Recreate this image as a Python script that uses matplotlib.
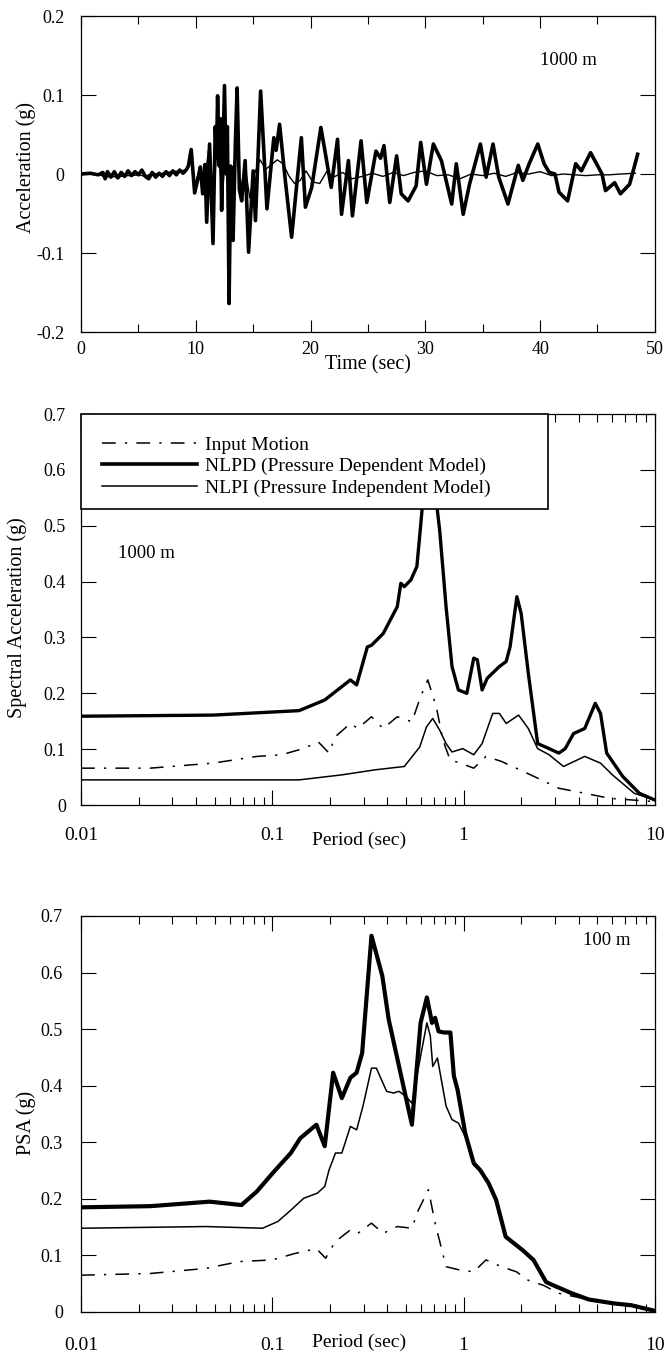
import matplotlib
matplotlib.use('Agg')
import matplotlib.pyplot as plt
from matplotlib.patches import Rectangle
from matplotlib.lines import Line2D
import matplotlib.ticker as mticker

plt.rcParams['font.family'] = ['Liberation Serif', 'DejaVu Serif']
plt.rcParams['axes.unicode_minus'] = False

# ---------------- Panel 1 : acceleration time history at 1000 m ----------------
t_nlpd = [0.0, 0.8, 1.5, 1.9, 2.1, 2.3, 2.6, 2.9, 3.2, 3.5,
          3.8, 4.1, 4.4, 4.7, 5.0, 5.3, 5.6, 5.9, 6.2, 6.5,
          6.8, 7.1, 7.4, 7.7, 8.0, 8.3, 8.6, 8.9, 9.2, 9.35,
          9.6, 9.9, 10.2, 10.4, 10.6, 10.8, 10.95, 11.2, 11.5, 11.7,
          11.8, 11.9, 12.05, 12.15, 12.25, 12.5, 12.65, 12.75, 12.9, 13.05,
          13.15, 13.25, 13.45, 13.6, 13.8, 14.0, 14.3, 14.6, 15.0, 15.2,
          15.65, 16.2, 16.8, 17.0, 17.3, 17.8, 18.35, 19.0, 19.2, 19.55,
          20.1, 20.9, 21.8, 22.35, 22.7, 23.3, 23.65, 24.4, 24.9, 25.7,
          26.1, 26.4, 26.9, 27.5, 27.9, 28.5, 29.2, 29.6, 30.1, 30.7,
          31.4, 32.3, 32.7, 33.3, 33.85, 34.8, 35.3, 35.9, 36.4, 37.2,
          38.1, 38.5, 39.05, 39.8, 40.35, 40.8, 41.3, 41.65, 42.4, 43.1,
          43.6, 44.4, 45.4, 45.7, 46.5, 47.0, 47.8, 48.5]
a_nlpd = [0.0, 0.001, -0.001, 0.002, -0.006, 0.003, -0.004, 0.003, -0.005, 0.002,
          -0.003, 0.004, -0.002, 0.003, -0.001, 0.005, -0.003, -0.006, 0.002, -0.004,
          0.001, -0.003, 0.003, -0.002, 0.004, -0.001, 0.005, 0.001, 0.006, 0.01,
          0.031, -0.024, -0.005, 0.009, -0.025, 0.012, -0.061, 0.038, -0.088, 0.06,
          0.02, 0.099, 0.01, 0.07, -0.046, 0.112, 0.0, 0.06, -0.164, 0.01,
          -0.04, -0.084, 0.04, 0.109, -0.02, -0.034, 0.017, -0.099, 0.004, -0.059,
          0.105, -0.044, 0.046, 0.03, 0.063, -0.008, -0.08, 0.017, 0.046, -0.042,
          -0.017, 0.059, -0.017, 0.044, -0.051, 0.017, -0.053, 0.042, -0.036, 0.029,
          0.02, 0.036, -0.036, 0.023, -0.025, -0.034, -0.015, 0.04, -0.013, 0.038,
          0.017, -0.038, 0.013, -0.051, -0.013, 0.038, -0.004, 0.038, -0.004, -0.038,
          0.011, -0.008, 0.013, 0.038, 0.013, 0.002, 0.0, -0.023, -0.034, 0.013,
          0.004, 0.027, 0.0, -0.021, -0.011, -0.025, -0.013, 0.025]

t_nlpi = [0.0, 1.5, 2.1, 2.6, 3.2, 3.8, 4.4, 5.0, 5.6, 6.2,
          6.8, 7.4, 8.0, 8.6, 9.2, 9.6, 9.9, 10.3, 10.7, 11.1,
          11.5, 11.9, 12.3, 12.7, 13.1, 13.5, 13.9, 14.3, 14.7, 15.1,
          15.6, 16.1, 16.6, 17.1, 17.6, 18.1, 18.6, 19.1, 19.6, 20.2,
          20.8, 21.4, 22.0, 22.8, 23.6, 24.5, 25.4, 26.3, 27.2, 28.1,
          29.0, 30.0, 31.0, 32.0, 33.0, 34.0, 35.0, 36.0, 37.0, 38.0,
          39.0, 40.0, 41.0, 42.0, 43.0, 44.0, 45.0, 46.0, 47.0, 48.3]
a_nlpi = [0.0, 0.0, -0.004, -0.003, -0.004, -0.002, -0.002, -0.001, -0.003, 0.001,
          0.0, 0.002, 0.003, 0.004, 0.005, 0.025, -0.015, 0.005, -0.02, 0.03,
          -0.035, 0.045, -0.03, 0.05, -0.05, 0.035, -0.02, 0.01, -0.03, 0.0,
          0.018, 0.006, 0.012, 0.018, 0.013, -0.002, -0.012, -0.008, 0.004, -0.01,
          -0.012, 0.003, -0.004, 0.002, -0.006, -0.003, 0.001, -0.003, 0.002, -0.002,
          0.002, 0.004, -0.002, -0.001, -0.006, 0.0, -0.002, 0.001, -0.003, 0.002,
          0.0, 0.003, -0.002, 0.0, -0.001, -0.002, -0.001, -0.001, 0.0, 0.001]

# ---------------- Panel 2 : spectral acceleration at 1000 m ----------------
T2_nlpd = [0.01, 0.049, 0.138, 0.188, 0.231, 0.256, 0.276, 0.314, 0.33, 0.38,
           0.45, 0.47, 0.49, 0.53, 0.57, 0.60, 0.64, 0.70, 0.75, 0.81,
           0.87, 0.94, 1.04, 1.13, 1.18, 1.25, 1.33, 1.54, 1.67, 1.75,
           1.9, 2.0, 2.18, 2.44, 2.8, 3.15, 3.4, 3.76, 4.3, 4.64,
           4.88, 5.2, 5.6, 6.8, 8.3, 10]
S2_nlpd = [0.159, 0.161, 0.169, 0.188, 0.212, 0.224, 0.215, 0.283, 0.286, 0.307,
           0.355, 0.397, 0.391, 0.403, 0.427, 0.51, 0.62, 0.58, 0.492, 0.355,
           0.248, 0.206, 0.2, 0.263, 0.26, 0.206, 0.227, 0.248, 0.257, 0.283,
           0.373, 0.343, 0.236, 0.11, 0.101, 0.093, 0.101, 0.128, 0.137, 0.164,
           0.182, 0.164, 0.093, 0.051, 0.021, 0.009]
T2_nlpi = [0.01, 0.138, 0.231, 0.344, 0.49, 0.59, 0.64, 0.69, 0.75, 0.81,
           0.87, 0.99, 1.13, 1.25, 1.42, 1.54, 1.67, 1.94, 2.18, 2.44,
           2.8, 3.33, 4.3, 5.2, 6.0, 7.8, 10]
S2_nlpi = [0.045, 0.045, 0.054, 0.063, 0.069, 0.104, 0.14, 0.155, 0.134, 0.11,
           0.095, 0.101, 0.09, 0.11, 0.164, 0.164, 0.146, 0.161, 0.137, 0.101,
           0.09, 0.069, 0.087, 0.075, 0.054, 0.021, 0.009]
T2_in = [0.01, 0.023, 0.049, 0.083, 0.112, 0.145, 0.174, 0.198, 0.213, 0.256,
         0.28, 0.33, 0.38, 0.45, 0.537, 0.596, 0.65, 0.72, 0.78, 0.85,
         0.96, 1.13, 1.31, 1.58, 1.97, 2.55, 3.15, 4.3, 5.8, 10]
S2_in = [0.066, 0.066, 0.075, 0.087, 0.09, 0.101, 0.113, 0.093, 0.122, 0.146,
         0.137, 0.158, 0.137, 0.158, 0.149, 0.194, 0.224, 0.176, 0.116, 0.081,
         0.075, 0.066, 0.087, 0.078, 0.063, 0.045, 0.03, 0.021, 0.012, 0.006]

# ---------------- Panel 3 : PSA at 100 m ----------------
T3_nlpd = [0.01, 0.023, 0.047, 0.069, 0.083, 0.102, 0.125, 0.14, 0.17, 0.188,
           0.208, 0.231, 0.256, 0.276, 0.295, 0.330, 0.376, 0.406, 0.537, 0.596,
           0.643, 0.684, 0.71, 0.74, 0.79, 0.853, 0.89, 0.93, 1.02, 1.13,
           1.22, 1.35, 1.48, 1.66, 2.04, 2.32, 2.70, 2.95, 3.68, 4.52,
           6.14, 7.5, 10]
S3_nlpd = [0.185, 0.187, 0.195, 0.189, 0.213, 0.248, 0.281, 0.307, 0.331, 0.293,
           0.423, 0.378, 0.414, 0.423, 0.458, 0.665, 0.594, 0.517, 0.331, 0.511,
           0.556, 0.511, 0.52, 0.496, 0.494, 0.494, 0.417, 0.393, 0.316, 0.263,
           0.251, 0.228, 0.198, 0.133, 0.109, 0.092, 0.053, 0.047, 0.033, 0.022,
           0.015, 0.012, 0.002]
T3_nlpi = [0.01, 0.045, 0.089, 0.107, 0.125, 0.146, 0.172, 0.188, 0.198, 0.214,
           0.231, 0.256, 0.276, 0.298, 0.330, 0.35, 0.396, 0.43, 0.46, 0.50,
           0.537, 0.596, 0.643, 0.67, 0.69, 0.73, 0.81, 0.87, 0.94, 1.02,
           1.13, 1.22, 1.35, 1.48, 1.66, 2.04, 2.32, 2.70, 2.95, 3.68,
           4.52, 6.14, 7.5, 10]
S3_nlpi = [0.148, 0.151, 0.148, 0.16, 0.180, 0.201, 0.21, 0.222, 0.251, 0.281,
           0.281, 0.328, 0.322, 0.364, 0.431, 0.431, 0.39, 0.387, 0.39, 0.381,
           0.369, 0.452, 0.511, 0.488, 0.434, 0.449, 0.364, 0.34, 0.334, 0.31,
           0.26, 0.249, 0.226, 0.196, 0.132, 0.108, 0.091, 0.052, 0.046, 0.032,
           0.021, 0.014, 0.011, 0.002]
T3_in = [0.01, 0.023, 0.045, 0.067, 0.1, 0.13, 0.17, 0.19, 0.213, 0.256,
         0.28, 0.33, 0.38, 0.45, 0.537, 0.58, 0.655, 0.71, 0.81, 0.96,
         1.13, 1.31, 1.58, 1.89, 2.18, 2.62, 3.15, 4.5, 10]
S3_in = [0.065, 0.068, 0.077, 0.089, 0.092, 0.103, 0.112, 0.095, 0.124, 0.145,
         0.139, 0.157, 0.139, 0.151, 0.148, 0.180, 0.216, 0.157, 0.08, 0.074,
         0.071, 0.092, 0.08, 0.071, 0.056, 0.047, 0.033, 0.022, 0.002]

time_ticks = [0, 10, 20, 30, 40, 50]
acc_ticks = [-0.2, -0.1, 0.0, 0.1, 0.2]
acc_labels = ['-0.2', '-0.1', '0', '0.1', '0.2']
per_ticks = [0.01, 0.1, 1, 10]
per_labels = ['0.01', '0.1', '1', '10']
sa_ticks = [0, 0.1, 0.2, 0.3, 0.4, 0.5, 0.6, 0.7]
sa_labels = ['0', '0.1', '0.2', '0.3', '0.4', '0.5', '0.6', '0.7']
legend_labels = ['Input Motion', 'NLPD (Pressure Dependent Model)',
                 'NLPI (Pressure Independent Model)']

INPUT_DASH = (0, (9, 6, 1.5, 6))

fig = plt.figure(figsize=(6.68, 13.58), dpi=100)
ax1 = fig.add_axes([0.1213, 0.7555, 0.859, 0.2327])
ax2 = fig.add_axes([0.1213, 0.4072, 0.859, 0.2879])
ax3 = fig.add_axes([0.1213, 0.0339, 0.859, 0.2916])

for ax in (ax1, ax2, ax3):
    for s in ax.spines.values():
        s.set_linewidth(0.9)

# Panel 1
ax1.plot(t_nlpi, a_nlpi, color='k', lw=1.0)
ax1.plot(t_nlpd, a_nlpd, color='k', lw=2.6, solid_joinstyle='round')
ax1.set_xlim(0, 50)
ax1.set_ylim(-0.2, 0.2)
ax1.set_xticks(time_ticks, labels=[str(v) for v in time_ticks])
ax1.xaxis.set_minor_locator(mticker.MultipleLocator(5))
ax1.set_yticks(acc_ticks, labels=acc_labels)
ax1.tick_params(axis='x', which='major', direction='in', top=True, length=8.6,
                width=0.8, labelsize=13, pad=6.5)
ax1.tick_params(axis='x', which='minor', direction='in', top=True, length=6,
                width=0.8)
ax1.tick_params(axis='y', which='major', direction='in', right=True, length=10.8,
                width=0.8, labelsize=13, pad=12)
ax1.set_xlabel('Time (sec)', fontsize=14.5, va='center')
ax1.xaxis.set_label_coords(0.5, -0.105)
ax1.set_ylabel('Acceleration (g)', fontsize=14.5, va='center')
ax1.yaxis.set_label_coords(-0.096, 0.52)
ax1.text(42.5, 0.144, '1000 m', ha='center', va='center', fontsize=13.5)


def style_spectrum(ax, xpad, ypad):
    ax.set_xscale('log')
    ax.set_xlim(0.01, 10)
    ax.set_ylim(0, 0.7)
    ax.set_xticks(per_ticks, labels=per_labels)
    ax.xaxis.set_minor_locator(mticker.LogLocator(base=10, subs=range(2, 10)))
    ax.xaxis.set_minor_formatter(mticker.NullFormatter())
    ax.set_yticks(sa_ticks, labels=sa_labels)
    ax.tick_params(axis='x', which='major', direction='in', top=True, length=10.8,
                   width=0.8, labelsize=14, pad=xpad)
    ax.tick_params(axis='x', which='minor', direction='in', top=True, length=5.8,
                   width=0.8)
    ax.tick_params(axis='y', which='major', direction='in', right=True, length=10.8,
                   width=0.8, labelsize=13, pad=ypad)


# Panel 2
ax2.plot(T2_in, S2_in, color='k', lw=1.1, linestyle=INPUT_DASH)
ax2.plot(T2_nlpd, S2_nlpd, color='k', lw=2.4, solid_joinstyle='round')
ax2.plot(T2_nlpi, S2_nlpi, color='k', lw=1.1)
style_spectrum(ax2, 16, 11)
ax2.set_xlabel('Period (sec)', fontsize=14, va='center')
ax2.xaxis.set_label_coords(0.485, -0.09)
ax2.set_ylabel('Spectral Acceleration (g)', fontsize=14.5, va='center')
ax2.yaxis.set_label_coords(-0.111, 0.48)
ax2.text(0.022, 0.45, '1000 m', ha='center', va='center', fontsize=13.5)

box = Rectangle((0, 0.757), 0.8136, 0.243, transform=ax2.transAxes,
                facecolor='white', edgecolor='k', lw=1.2, zorder=3, clip_on=False)
ax2.add_patch(box)
handles = [Line2D([], [], color='k', lw=1.1, linestyle=INPUT_DASH),
           Line2D([], [], color='k', lw=2.6),
           Line2D([], [], color='k', lw=1.1)]
leg = ax2.legend(handles, legend_labels, loc='upper left',
                 bbox_to_anchor=(0.0366, 0.944), frameon=False, fontsize=14,
                 handlelength=4.9, handletextpad=0.4, labelspacing=0.2,
                 borderpad=0, borderaxespad=0)
leg.set_zorder(5)

# Panel 3
ax3.plot(T3_in, S3_in, color='k', lw=1.1, linestyle=INPUT_DASH)
ax3.plot(T3_nlpi, S3_nlpi, color='k', lw=1.1)
ax3.plot(T3_nlpd, S3_nlpd, color='k', lw=3.0, solid_joinstyle='round')
style_spectrum(ax3, 18, 13)
ax3.set_xlabel('Period (sec)', fontsize=14, va='center')
ax3.xaxis.set_label_coords(0.485, -0.076)
ax3.set_ylabel('PSA (g)', fontsize=14.5, va='center')
ax3.yaxis.set_label_coords(-0.096, 0.477)
ax3.text(5.6, 0.656, '100 m', ha='center', va='center', fontsize=13.5)

fig.savefig('out.png', dpi=100, facecolor='white')
